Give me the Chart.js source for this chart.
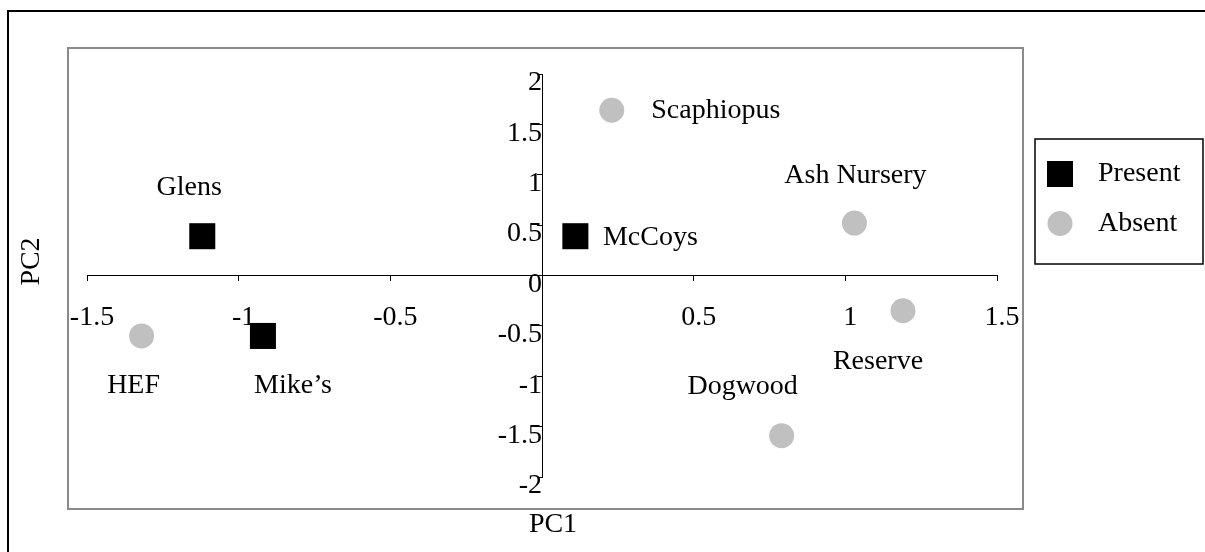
<!DOCTYPE html>
<html>
<head>
<meta charset="utf-8">
<script src="https://cdn.jsdelivr.net/npm/chart.js@4.4.1/dist/chart.umd.min.js"></script>
<style>
  html, body { margin: 0; padding: 0; background: #ffffff; }
  #wrap { position: relative; width: 1205px; height: 552px; overflow: hidden; }
  canvas { display: block; }
</style>
</head>
<body>
<div id="wrap"><canvas id="c" width="1205" height="552"></canvas></div>
<script>
// ---------------- data ----------------
const seriesNames = ['Present', 'Absent'];

const presentSites = ['Glens', 'Mike\u2019s', 'McCoys'];
const presentPC1 = [-1.12, -0.92, 0.11];
const presentPC2 = [0.39, -0.60, 0.39];

const absentSites = ['HEF', 'Scaphiopus', 'Ash Nursery', 'Reserve', 'Dogwood'];
const absentPC1 = [-1.32, 0.23, 1.03, 1.19, 0.79];
const absentPC2 = [-0.60, 1.64, 0.52, -0.35, -1.59];

const xTickValues = [-1.5, -1, -0.5, 0.5, 1, 1.5];
const yTickValues = [2, 1.5, 1, 0.5, 0, -0.5, -1, -1.5, -2];
const xTitle = 'PC1';
const yTitle = 'PC2';

// ---------------- layout / style (not data) ----------------
const FONT = '"Liberation Serif", "Times New Roman", Times, serif';
const FS = 28;
// label offsets (pixels from the marker centre to the label centre)
const labelOffsets = {
  'Glens': [-13, -49],
  'Mike\u2019s': [30, 50],
  'McCoys': [75, 1],
  'HEF': [-8, 50],
  'Scaphiopus': [104, 0],
  'Ash Nursery': [1, -47],
  'Reserve': [-25, 51],
  'Dogwood': [-39, -49]
};

const pts = (xs, ys) => xs.map((x, i) => ({ x: x, y: ys[i] }));

const decorPlugin = {
  id: 'decor',
  beforeDraw(chart) {
    const ctx = chart.ctx;
    const a = chart.chartArea;
    ctx.save();
    // outer frame
    ctx.strokeStyle = '#000';
    ctx.lineWidth = 2;
    ctx.strokeRect(8, 11, 1210, 560);
    // plot area frame
    ctx.strokeStyle = '#8a8a8a';
    ctx.lineWidth = 2;
    ctx.strokeRect(a.left - 19, a.top - 26, (a.right + 26) - (a.left - 19), (a.bottom + 32) - (a.top - 26));
    ctx.restore();
  },
  afterDatasetsDraw(chart) {
    const ctx = chart.ctx;
    ctx.save();
    ctx.font = FS + 'px ' + FONT;
    ctx.fillStyle = '#000';
    ctx.textAlign = 'center';
    ctx.textBaseline = 'middle';
    chart.data.datasets.forEach((ds, di) => {
      const meta = chart.getDatasetMeta(di);
      meta.data.forEach((el, i) => {
        const name = ds.siteNames[i];
        const off = labelOffsets[name] || [0, -40];
        ctx.fillText(name, el.x + off[0], el.y + off[1]);
      });
    });
    ctx.restore();
  },
  afterDraw(chart) {
    const ctx = chart.ctx;
    const a = chart.chartArea;
    ctx.save();
    ctx.font = FS + 'px ' + FONT;
    ctx.fillStyle = '#000';
    ctx.textAlign = 'center';
    ctx.textBaseline = 'middle';
    // axis titles
    ctx.fillText(xTitle, (a.left + a.right) / 2 + 11, a.bottom + 48);
    ctx.save();
    ctx.translate(a.left - 55, (a.top + a.bottom) / 2 - 14);
    ctx.rotate(-Math.PI / 2);
    ctx.fillText(yTitle, 0, 0);
    ctx.restore();

    // legend
    const L = { x: 1035, y: 139, w: 168, h: 125 };
    ctx.strokeStyle = '#000';
    ctx.lineWidth = 1.5;
    ctx.strokeRect(L.x, L.y, L.w, L.h);
    const rows = [174, 223.5];
    chart.data.datasets.forEach((ds, di) => {
      const cy = rows[di];
      const cx = 1060;
      ctx.fillStyle = ds.backgroundColor;
      if (ds.pointStyle === 'rect') {
        ctx.fillRect(cx - 13, cy - 13, 26, 26);
      } else {
        ctx.beginPath();
        ctx.arc(cx, cy, 12.5, 0, Math.PI * 2);
        ctx.fill();
      }
      ctx.fillStyle = '#000';
      ctx.textAlign = 'left';
      ctx.fillText(ds.label, 1098, cy);
    });
    ctx.restore();
  }
};

const tickFont = { family: FONT, size: FS, lineHeight: 1.2 };

new Chart(document.getElementById('c'), {
  type: 'scatter',
  data: {
    datasets: [
      {
        label: seriesNames[0],
        siteNames: presentSites,
        data: pts(presentPC1, presentPC2),
        pointStyle: 'rect',
        pointRadius: 18.4,
        backgroundColor: '#000000',
        borderWidth: 0,
        clip: false
      },
      {
        label: seriesNames[1],
        siteNames: absentSites,
        data: pts(absentPC1, absentPC2),
        pointStyle: 'circle',
        pointRadius: 12.5,
        backgroundColor: '#c0c0c0',
        borderWidth: 0,
        clip: false
      }
    ]
  },
  options: {
    responsive: false,
    animation: false,
    devicePixelRatio: 1,
    events: [],
    layout: { padding: { left: 87, right: 208, top: 74, bottom: 75 } },
    plugins: {
      legend: { display: false },
      tooltip: { enabled: false },
      title: { display: false }
    },
    scales: {
      x: {
        type: 'linear',
        position: { y: 0 },
        min: -1.5,
        max: 1.5,
        afterBuildTicks: (axis) => { axis.ticks = xTickValues.map(v => ({ value: v })); },
        grid: { display: true, drawOnChartArea: false, drawTicks: true, tickLength: 5, tickColor: '#000', tickWidth: 1 },
        border: { display: true, color: '#000', width: 1 },
        ticks: {
          font: tickFont,
          color: '#000',
          padding: 20,
          labelOffset: 5,
          maxRotation: 0,
          autoSkip: false,
          callback: (v) => String(v)
        }
      },
      y: {
        type: 'linear',
        position: { x: 0 },
        min: -2,
        max: 2,
        afterBuildTicks: (axis) => { axis.ticks = yTickValues.map(v => ({ value: v })); },
        grid: { display: true, drawOnChartArea: false, drawTicks: true, tickLength: 5, tickColor: '#000', tickWidth: 1 },
        border: { display: true, color: '#000', width: 1 },
        ticks: {
          font: tickFont,
          color: '#000',
          padding: 4,
          labelOffset: 9,
          autoSkip: false,
          callback: (v) => String(v)
        }
      }
    }
  },
  plugins: [decorPlugin]
});
</script>
</body>
</html>
